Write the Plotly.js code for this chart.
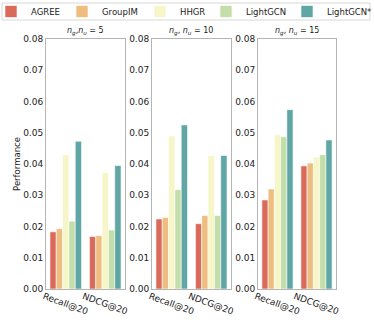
<!DOCTYPE html>
<html>
<head>
<meta charset="utf-8">
<script src="https://cdn.plot.ly/plotly-3.0.1.min.js"></script>
<style>html,body{margin:0;padding:0;background:#fff;}</style>
</head>
<body>
<div id="plotly" style="width:374px;height:325px;"></div>
<script>
// data
var metrics = ['Recall@20', 'NDCG@20'];
var methods = ['AGREE', 'GroupIM', 'HHGR', 'LightGCN', 'LightGCN*'];
var colors = ['#da6a5a', '#efbd80', '#f7f6c8', '#c3dea8', '#5fa6a4'];
var panelTitles = ['<i>n</i><sub><i>g</i></sub>,<i>n</i><sub><i>u</i></sub> = 5',
                   '<i>n</i><sub><i>g</i></sub>, <i>n</i><sub><i>u</i></sub> = 10',
                   '<i>n</i><sub><i>g</i></sub>, <i>n</i><sub><i>u</i></sub> = 15'];
// values per panel, per method: [Recall@20, NDCG@20]
var panel5 = [[0.0183, 0.0168], [0.0193, 0.0171], [0.0430, 0.0373], [0.0217, 0.0189], [0.0473, 0.0395]];
var panel10 = [[0.0224, 0.0209], [0.0229, 0.0235], [0.0490, 0.0427], [0.0318, 0.0235], [0.0525, 0.0427]];
var panel15 = [[0.0285, 0.0394], [0.0320, 0.0403], [0.0494, 0.0422], [0.0487, 0.0430], [0.0574, 0.0477]];
var yTicks = [0, 0.01, 0.02, 0.03, 0.04, 0.05, 0.06, 0.07, 0.08];

var panels = [panel5, panel10, panel15];
var domains = [[0, 0.2724], [0.3655, 0.6379], [0.731, 1]];
var font = 'DejaVu Sans, sans-serif';

// plot area in px, used to turn pixel spots into paper coords
var L = 46, T = 39, W = 290, H = 250;
function px(x) { return (x - L) / W; }
function py(y) { return (T + H - y) / H; }

// left edge of each legend text, px
var legendTextX = [31, 102, 180, 246, 327];

var traces = [];
panels.forEach(function(p, k) {
    var sfx = k === 0 ? '' : String(k + 1);
    methods.forEach(function(m, i) {
        traces.push({
            type: 'bar',
            name: m,
            x: metrics,
            y: p[i],
            xaxis: 'x' + sfx,
            yaxis: 'y' + sfx,
            legend: i === 0 ? 'legend' : 'legend' + (i + 1),
            showlegend: k === 0,
            marker: {color: colors[i], line: {color: '#ffffff', width: 0.6}}
        });
    });
});

var layout = {
    width: 374, height: 325,
    margin: {l: L, r: 374 - L - W, t: T, b: 325 - T - H, autoexpand: false},
    paper_bgcolor: '#ffffff', plot_bgcolor: '#ffffff',
    font: {family: font, size: 9, color: '#222'},
    barmode: 'group', bargap: 0.2, bargroupgap: 0,
    annotations: [],
    shapes: [{
        type: 'rect', xref: 'paper', yref: 'paper',
        x0: px(2), x1: px(370), y0: py(3), y1: py(20),
        line: {color: '#d8d8d8', width: 1}, fillcolor: 'rgba(0,0,0,0)'
    }]
};

methods.forEach(function(m, i) {
    var key = i === 0 ? 'legend' : 'legend' + (i + 1);
    layout[key] = {
        orientation: 'h', xref: 'paper', yref: 'paper',
        x: px(legendTextX[i] - 40), xanchor: 'left',
        y: py(11.5), yanchor: 'middle',
        borderwidth: 0, bgcolor: 'rgba(0,0,0,0)',
        font: {size: 8.5}, itemwidth: 30
    };
});

panels.forEach(function(p, k) {
    var sfx = k === 0 ? '' : String(k + 1);
    layout['xaxis' + sfx] = {
        domain: domains[k], anchor: 'y' + sfx, type: 'category',
        range: [-0.5, 1.5], tickangle: 20, ticks: '', ticklabelshift: -22,
        ticklabelstandoff: -2,
        showline: true, mirror: true, linecolor: '#b5b5b5', linewidth: 1,
        tickfont: {size: 9}, showgrid: false, fixedrange: true
    };
    layout['yaxis' + sfx] = {
        domain: [0, 1], anchor: 'x' + sfx, range: [0, 0.08],
        tickvals: yTicks, tickformat: '.2f', ticks: '',
        showline: true, mirror: true, linecolor: '#b5b5b5', linewidth: 1,
        showgrid: false, zeroline: false, tickfont: {size: 9}, fixedrange: true
    };
    layout.annotations.push({
        text: panelTitles[k], xref: 'paper', yref: 'paper',
        x: (domains[k][0] + domains[k][1]) / 2, xanchor: 'center',
        y: 1.0, yanchor: 'bottom',
        showarrow: false, font: {size: 8}
    });
});
layout.yaxis.title = {text: 'Performance', font: {size: 8.5}, standoff: 1};

Plotly.newPlot('plotly', traces, layout, {displayModeBar: false, staticPlot: true});
</script>
</body>
</html>
